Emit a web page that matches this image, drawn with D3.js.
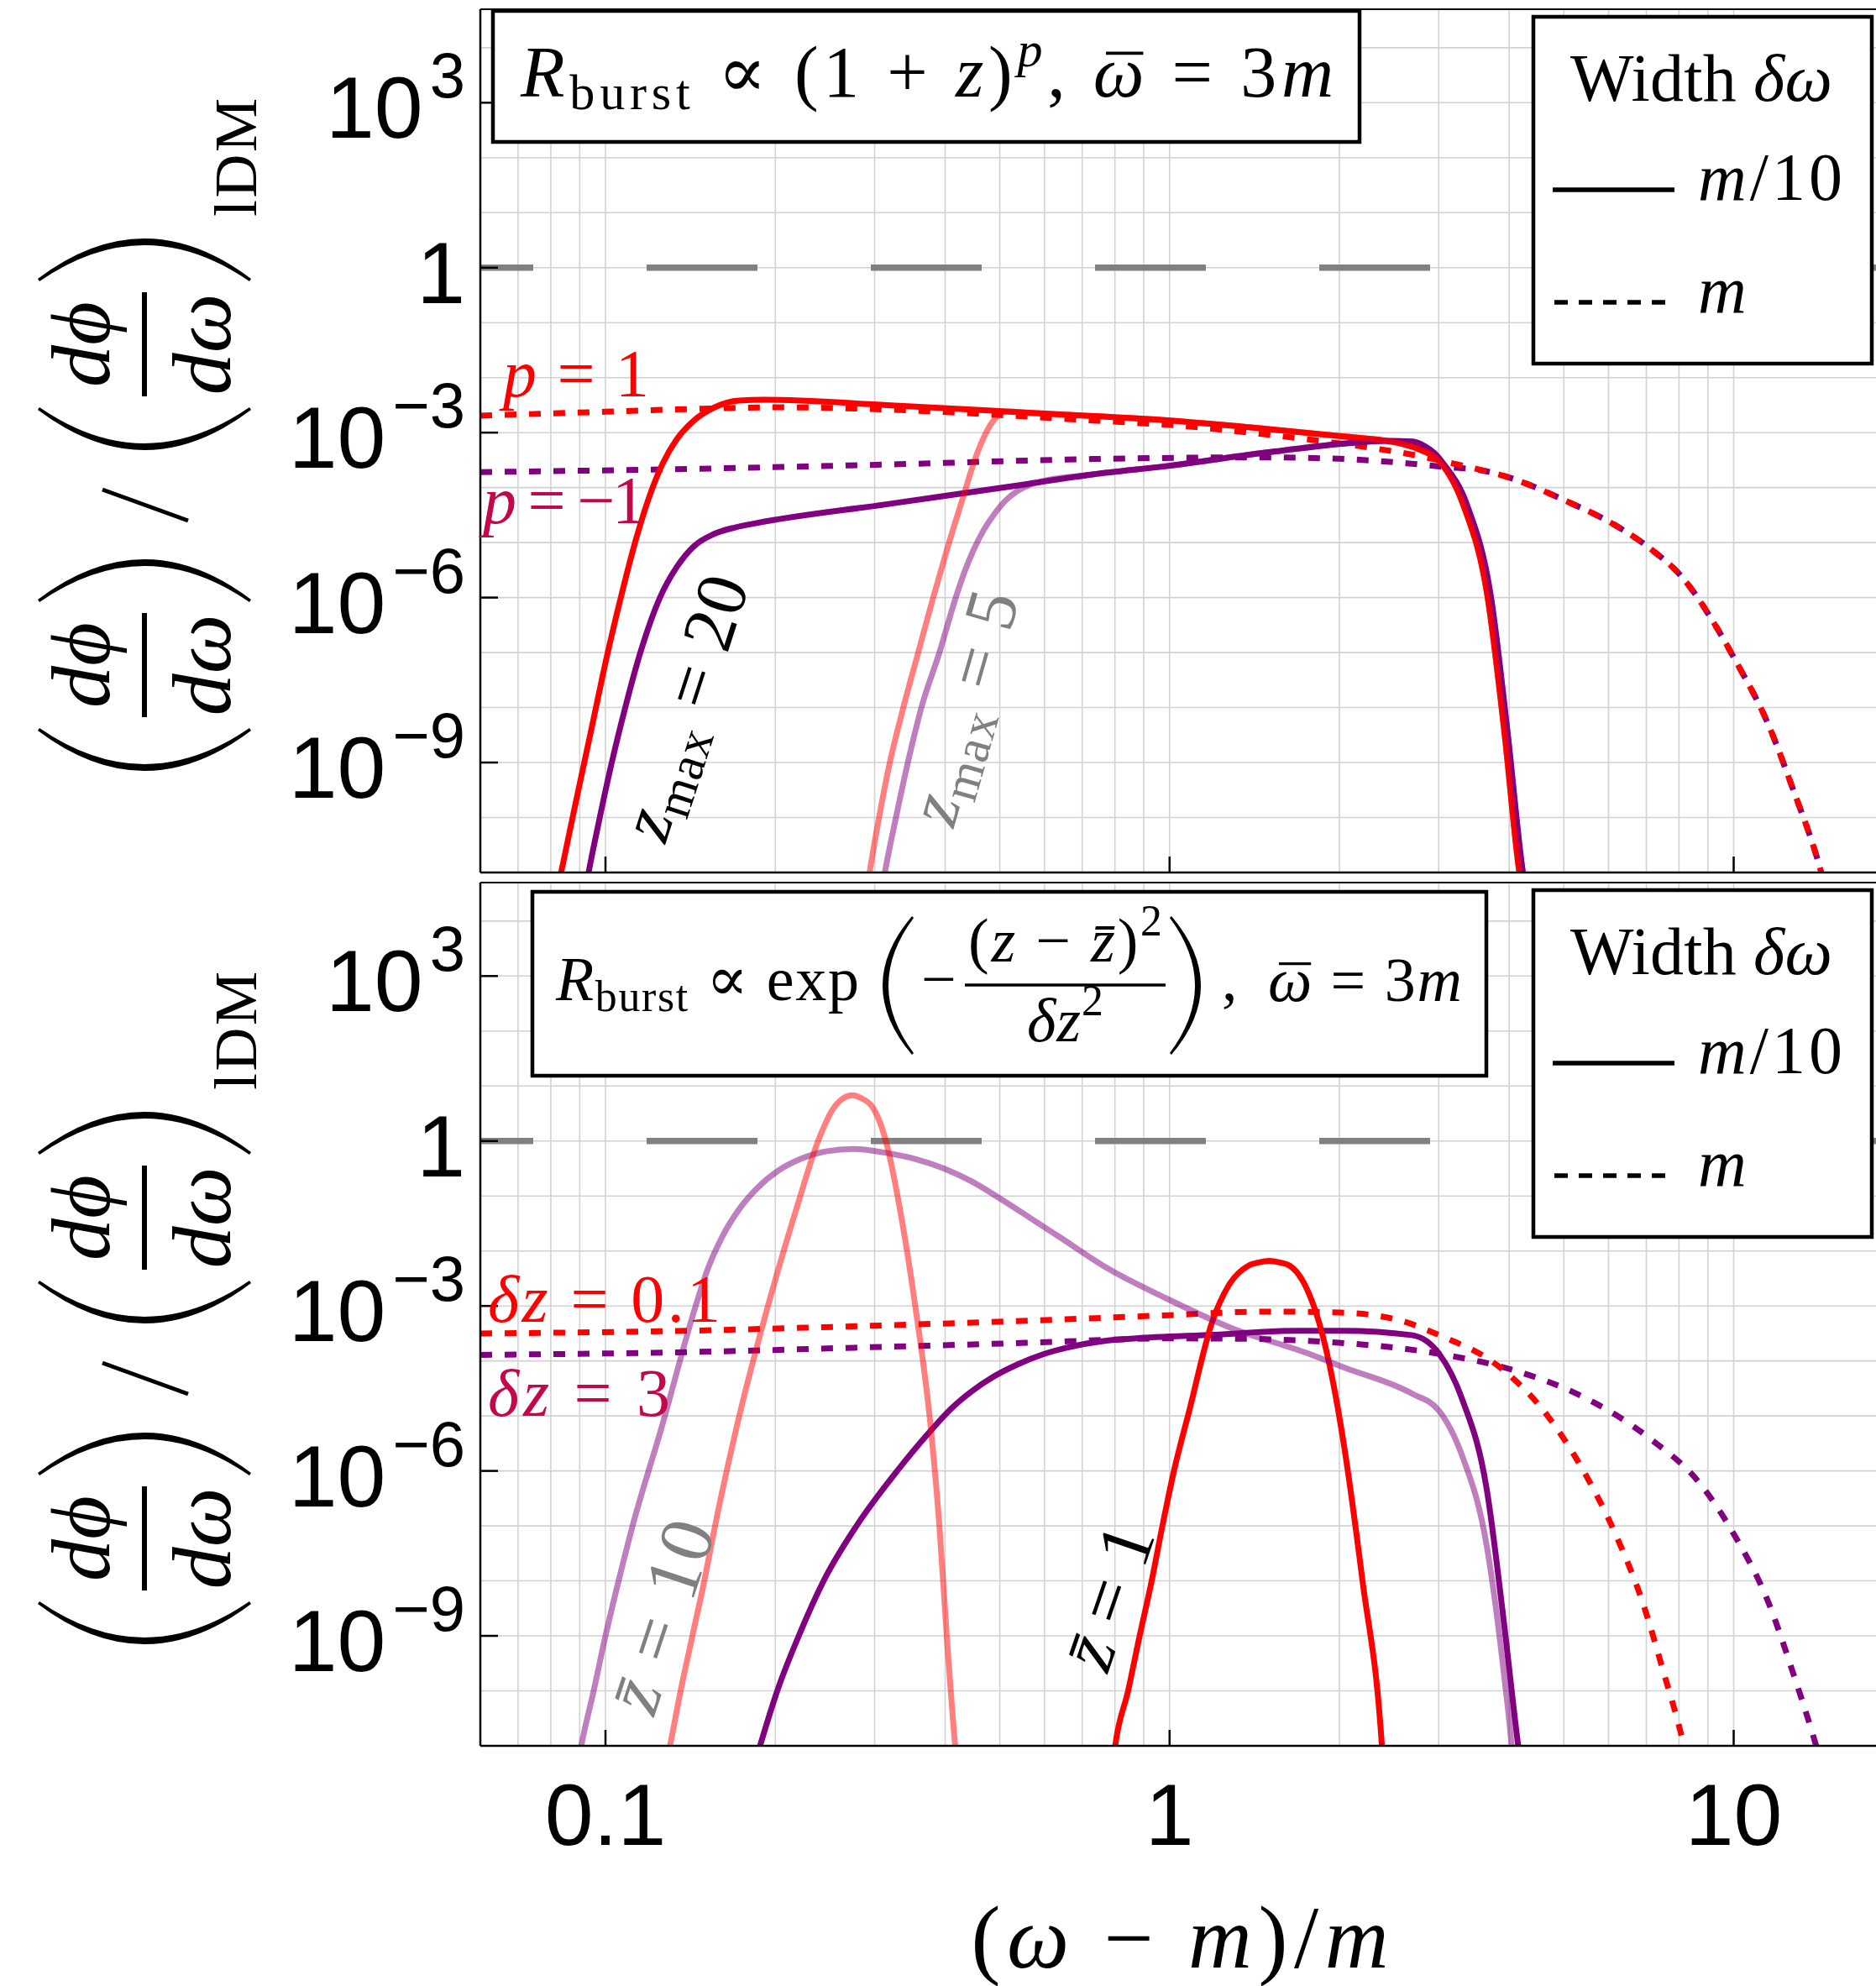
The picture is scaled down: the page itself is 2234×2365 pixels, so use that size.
<!DOCTYPE html>
<html>
<head>
<meta charset="utf-8">
<script src="https://cdn.jsdelivr.net/npm/d3@7"></script>
<style>
  html, body { margin: 0; padding: 0; background: #fff; }
  svg { display: block; }
</style>
</head>
<body>
<div id="wrap"></div>
<script>

// ---------- axes ----------
const xTicks = [0.1, 1, 10];
const xTickLabels = ["0.1", "1", "10"];
const yTicks = [1e-9, 1e-6, 1e-3, 1, 1e3];
const yTickBase = ["10", "10", "10", "1", "10"];
const yTickExp = ["\u22129", "\u22126", "\u22123", "", "3"];

// ---------- top panel : R_burst ∝ (1+z)^p ----------
// width m/10, z_max = 20
const topRed20 = [[0.0828,6.8e-12],[0.0881,1.45e-10],[0.0943,3.8e-9],[0.1007,9.0e-8],[0.1075,1.5e-6],[0.1135,1.24e-5],[0.1195,6.7e-5],[0.1263,2.74e-4],[0.1338,7.6e-4],[0.1433,1.64e-3],[0.1562,2.89e-3],[0.1724,3.83e-3],[0.1911,3.96e-3],[0.316,3.16e-3],[0.562,2.3e-3],[1.0,1.66e-3],[1.449,1.2e-3],[2.04,8.5e-4],[2.42,7.1e-4],[2.62,6.0e-4],[2.78,4.9e-4],[3.01,3.0e-4],[3.32,4.7e-5],[3.66,1.07e-6],[3.92,3.8e-9],[4.17,1e-11],[4.23,4e-12]];
const topPurple20 = [[0.0921,4.8e-12],[0.0935,1.1e-11],[0.0977,1e-10],[0.1026,1e-9],[0.1084,1e-8],[0.1153,1e-7],[0.1249,1e-6],[0.1338,3.6e-6],[0.1437,8.7e-6],[0.1556,1.43e-5],[0.1698,1.89e-5],[0.1847,2.25e-5],[0.316,5.0e-5],[0.562,1.17e-4],[0.730,1.74e-4],[1.0,2.5e-4],[1.449,4.2e-4],[2.04,6.3e-4],[2.42,7.1e-4],[2.685,6.9e-4],[2.84,5.6e-4],[2.95,4.2e-4],[3.05,2.8e-4],[3.37,4.7e-5],[3.71,1.07e-6],[3.97,3.8e-9],[4.23,1e-11],[4.29,4e-12]];
// width m/10, z_max = 5
const topRed5 = [[0.2911,5e-12],[0.2944,1.1e-11],[0.3055,1e-10],[0.3192,1e-9],[0.3373,1e-8],[0.3584,1e-7],[0.381,1e-6],[0.4049,8.7e-6],[0.4360,1.02e-4],[0.4458,2.16e-4],[0.4557,4.13e-4],[0.4657,7.18e-4],[0.4757,1.12e-3],[0.4858,1.58e-3],[0.4959,2.01e-3],[0.5060,2.31e-3],[0.5164,2.42e-3],[0.562,2.3e-3],[1.0,1.66e-3],[1.449,1.2e-3],[2.04,8.5e-4],[2.42,7.1e-4],[2.62,6.0e-4],[2.78,4.9e-4],[3.01,3.0e-4],[3.32,4.7e-5],[3.66,1.07e-6],[3.92,3.8e-9],[4.17,1e-11],[4.23,4e-12]];
const topPurple5 = [[0.309,5e-12],[0.3133,1.1e-11],[0.3273,1e-10],[0.3436,1e-9],[0.3631,1e-8],[0.3908,1e-7],[0.4178,1e-6],[0.4329,2.91e-6],[0.4496,7.46e-6],[0.4681,1.68e-5],[0.4886,3.27e-5],[0.5105,5.65e-5],[0.5355,8.45e-5],[0.5627,1.11e-4],[0.5924,1.29e-4],[0.730,1.74e-4],[1.0,2.5e-4],[1.449,4.2e-4],[2.04,6.3e-4],[2.42,7.1e-4],[2.685,6.9e-4],[2.84,5.6e-4],[2.95,4.2e-4],[3.05,2.8e-4],[3.37,4.7e-5],[3.71,1.07e-6],[3.97,3.8e-9],[4.23,1e-11],[4.29,4e-12]];
// width m
const topRedWide = [[0.06,2.04e-3],[0.1,2.4e-3],[0.1413,2.69e-3],[0.1995,2.88e-3],[0.316,2.63e-3],[0.501,2.09e-3],[0.730,1.66e-3],[1.028,1.35e-3],[1.449,9.5e-4],[2.04,6.2e-4],[2.79,3.7e-4],[3.31,2.5e-4],[4.01,1.51e-4],[5.01,5.9e-5],[6.18,2.04e-5],[7.10,7.9e-6],[8.15,2.19e-6],[9.38,2.6e-7],[10.02,7.9e-8],[11.53,4.8e-9],[12.71,3.5e-10],[14.19,1.32e-11],[14.39,7.9e-12]];
const topPurpleWide = [[0.06,1.91e-4],[0.1413,2.19e-4],[0.316,2.63e-4],[0.730,3.31e-4],[1.449,3.55e-4],[2.04,3.31e-4],[2.655,2.75e-4],[3.04,2.4e-4],[3.63,2.0e-4],[4.01,1.51e-4],[5.01,5.9e-5],[6.18,2.04e-5],[7.10,7.9e-6],[8.15,2.19e-6],[9.38,2.6e-7],[10.02,7.9e-8],[11.53,4.8e-9],[12.71,3.5e-10],[14.19,1.32e-11],[14.39,7.9e-12]];

// ---------- bottom panel : gaussian burst in z ----------
// width m/10, zbar = 10
const botRed10 = [[0.1282,5e-12],[0.1301,1e-11],[0.1359,1e-10],[0.1426,1e-9],[0.1497,1e-8],[0.1564,1e-7],[0.1707,6.1e-6],[0.1941,1e-3],[0.2188,0.066],[0.2382,1],[0.2529,3.76],[0.2642,6.03],[0.2739,6.8],[0.2838,6.03],[0.2992,3.76],[0.3141,1],[0.3319,0.066],[0.3541,1e-3],[0.3773,6.1e-6],[0.3908,1e-7],[0.4027,1e-9],[0.4169,1e-11],[0.4207,4e-12]];
const botPurple10 = [[0.0895,5e-12],[0.0906,1e-11],[0.0953,1e-10],[0.1,1e-9],[0.1055,1e-8],[0.1117,1e-7],[0.1257,6.1e-6],[0.1445,1.0e-3],[0.1518,4.69e-3],[0.1609,0.0178],[0.1721,0.0552],[0.1857,0.1387],[0.2021,0.2858],[0.2219,0.4742],[0.2458,0.647],[0.2748,0.716],[0.3162,0.6026],[0.3548,0.4677],[0.3981,0.3162],[0.4467,0.182],[0.5012,0.0891],[0.5623,0.0417],[0.6389,0.0178],[0.7748,4.9e-3],[0.9856,1.38e-3],[1.284,4.0e-4],[1.756,1.38e-4],[2.04,7.6e-5],[2.685,2.57e-5],[3.0,1.26e-5],[3.30,1.9e-6],[3.65,4.3e-8],[3.91,2.3e-10],[4.04,1e-11],[4.07,4e-12]];
// width m/10, zbar = 1
const botRed1 = [[0.7943,5e-12],[0.801,1e-11],[0.8443,1e-10],[0.885,1e-9],[0.9296,1e-8],[0.9712,1e-7],[1.018,1e-6],[1.084,1.26e-5],[1.189,5.0e-4],[1.274,2.4e-3],[1.380,5.4e-3],[1.439,6.2e-3],[1.502,6.6e-3],[1.567,6.2e-3],[1.633,5.4e-3],[1.738,2.4e-3],[1.841,5.0e-4],[1.950,4.0e-5],[2.035,3.2e-6],[2.198,1e-8],[2.379,1e-11],[2.393,4e-12]];
const botPurple1 = [[0.1841,5e-12],[0.1879,1e-11],[0.2016,1e-10],[0.2201,1e-9],[0.2436,1e-8],[0.2786,1e-7],[0.3289,1e-6],[0.3793,5.75e-6],[0.4089,1.32e-5],[0.4445,2.74e-5],[0.4870,5.15e-5],[0.5379,8.67e-5],[0.5981,1.33e-4],[0.6711,1.83e-4],[0.7585,2.28e-4],[0.8636,2.56e-4],[1.2,3.0e-4],[1.675,3.55e-4],[2.034,3.55e-4],[2.685,2.95e-4],[3.0,1.38e-4],[3.30,2.04e-5],[3.65,4.6e-7],[3.91,1.95e-9],[4.15,1e-11],[4.20,4e-12]];
// width m
const botRedWide = [[0.06,3.16e-4],[0.1413,3.55e-4],[0.2752,4.27e-4],[0.562,5.4e-4],[1.0,6.8e-4],[1.479,7.9e-4],[1.995,7.6e-4],[2.512,5.75e-4],[3.04,2.8e-4],[3.80,8.5e-5],[4.68,1e-5],[5.37,1.17e-6],[6.18,6.9e-8],[6.90,4.0e-9],[7.50,2.3e-10],[8.15,1.05e-11],[8.24,6.3e-12]];
const botPurpleWide = [[0.06,1.29e-4],[0.1413,1.45e-4],[0.2752,1.74e-4],[0.562,2.14e-4],[1.0,2.57e-4],[1.413,2.51e-4],[1.995,2.14e-4],[2.512,1.74e-4],[3.04,1.32e-4],[4.07,6.8e-5],[5.37,2.3e-5],[7.10,3.9e-6],[8.73,5.75e-7],[10.03,6.8e-8],[11.53,4.0e-9],[12.71,2.3e-10],[13.80,1.66e-11],[14.19,6.3e-12]];

const refLevel = 1;   // grey dashed line, ratio = 1

// ---------- styles ----------
const SERIF = "'Liberation Serif','DejaVu Serif',serif";
const SANS = "'Liberation Sans','DejaVu Sans',sans-serif";
const RED = "#ff0000", PURPLE = "#800080", CRIMSON = "#c0084a", GREY = "#808080";

const W = 2234, H = 2365;
const xLeft = 572;

const x = d3.scaleLog().domain([0.06, 18]).range([xLeft, 2236]);
const yDomain = [1e-11, Math.pow(10, 4.7)];

const svg = d3.select("#wrap").append("svg")
    .attr("width", W).attr("height", H)
    .attr("viewBox", [0, 0, W, H]);

svg.append("rect").attr("width", W).attr("height", H).attr("fill", "#fff");

// text with italic / sub / sup pieces
function rich(parent, px, py, size, parts, opts) {
    opts = opts || {};
    const t = parent.append("text")
        .attr("x", px).attr("y", py)
        .attr("font-family", SERIF)
        .attr("font-size", size)
        .attr("fill", opts.color || "#000");
    if (opts.anchor) t.attr("text-anchor", opts.anchor);
    if (opts.len) t.attr("textLength", opts.len).attr("lengthAdjust", "spacing");
    let shift = 0;
    parts.forEach(p => {
        const s = t.append("tspan").text(p.t);
        if (p.i) s.attr("font-style", "italic");
        const want = p.sub ? size * 0.18 : p.sup ? -size * 0.42 : 0;
        if (want !== shift) { s.attr("dy", want - shift); shift = want; }
        if (p.sub || p.sup) s.attr("font-size", size * 0.7);
    });
    return t;
}

// bar over one character of a text (omega-bar); text must hold single spaces only
function overbar(parent, t, ch, baseline, size) {
    const node = t.node();
    const i = node.textContent.indexOf(ch);
    const p0 = node.getStartPositionOfChar(i);
    const tmp = parent.append("text")
        .attr("font-family", SERIF).attr("font-size", size)
        .attr("font-style", "italic").text(ch);
    const w = tmp.node().getComputedTextLength();
    tmp.remove();
    parent.append("line")
        .attr("x1", p0.x + w * 0.25).attr("x2", p0.x + w * 0.98)
        .attr("y1", baseline - size * 0.6).attr("y2", baseline - size * 0.6)
        .attr("stroke", "#000").attr("stroke-width", size * 0.045);
}

const line = d3.line()
    .x(d => x(d[0]))
    .y(d => d[1])
    .curve(d3.curveMonotoneX);

function drawPanel(cfg, idx) {
    const y = d3.scaleLog().domain(yDomain).range([cfg.bottom, cfg.top]);
    const g = svg.append("g");

    const clipId = "clip" + idx;
    svg.append("clipPath").attr("id", clipId).append("rect")
        .attr("x", xLeft).attr("y", cfg.top)
        .attr("width", W - xLeft).attr("height", cfg.bottom - cfg.top);

    // grid
    const xGrid = [];
    [0.01, 0.1, 1, 10].forEach(b => { for (let k = 1; k < 10; k++) xGrid.push(b * k); });
    const yGrid = d3.range(-11, 5).map(e => Math.pow(10, e));
    const grid = g.append("g").attr("stroke", "#d2d2d2").attr("stroke-width", 1.6);
    grid.selectAll("line.gx")
        .data(xGrid.filter(v => v > 0.06 && v < 18))
        .join("line").attr("class", "gx")
        .attr("x1", d => x(d)).attr("x2", d => x(d))
        .attr("y1", cfg.top).attr("y2", cfg.bottom);
    grid.selectAll("line.gy")
        .data(yGrid)
        .join("line").attr("class", "gy")
        .attr("x1", xLeft).attr("x2", W)
        .attr("y1", d => y(d)).attr("y2", d => y(d));

    const plot = g.append("g").attr("clip-path", `url(#${clipId})`);

    // reference level
    plot.append("line")
        .attr("x1", x(0.06)).attr("x2", x(18))
        .attr("y1", y(refLevel)).attr("y2", y(refLevel))
        .attr("stroke", GREY).attr("stroke-width", 7.5)
        .attr("stroke-dasharray", "132,135")
        .attr("stroke-dashoffset", 69);

    // curves
    cfg.series.forEach(s => {
        plot.append("path")
            .datum(s.data.map(d => [d[0], y(d[1])]))
            .attr("d", line)
            .attr("fill", "none")
            .attr("stroke", s.color)
            .attr("stroke-opacity", s.alpha || 1)
            .attr("stroke-width", 7)
            .attr("stroke-dasharray", s.dash ? "14,15" : null);
    });

    // frame
    g.append("line").attr("x1", xLeft).attr("x2", W).attr("y1", cfg.top).attr("y2", cfg.top)
        .attr("stroke", "#000").attr("stroke-width", 2);
    g.append("line").attr("x1", xLeft).attr("x2", W).attr("y1", cfg.bottom).attr("y2", cfg.bottom)
        .attr("stroke", "#000").attr("stroke-width", 2.5);
    g.append("line").attr("x1", xLeft).attr("x2", xLeft).attr("y1", cfg.top).attr("y2", cfg.bottom)
        .attr("stroke", "#000").attr("stroke-width", 2.5);

    // ticks
    g.selectAll("line.yt").data(yTicks).join("line").attr("class", "yt")
        .attr("x1", xLeft).attr("x2", xLeft + 21)
        .attr("y1", d => y(d)).attr("y2", d => y(d))
        .attr("stroke", "#000").attr("stroke-width", 2.5);
    g.selectAll("line.xt").data(xTicks).join("line").attr("class", "xt")
        .attr("x1", d => x(d)).attr("x2", d => x(d))
        .attr("y1", cfg.bottom).attr("y2", cfg.bottom - 19)
        .attr("stroke", "#000").attr("stroke-width", 2.5);

    // y tick labels
    yTicks.forEach((v, i) => {
        const t = g.append("text")
            .attr("x", 554).attr("y", y(v) + 42)
            .attr("text-anchor", "end")
            .attr("font-family", SANS).attr("font-size", 104)
            .text(yTickBase[i]);
        if (yTickExp[i]) {
            t.append("tspan").attr("dy", -48).attr("dx", 8)
                .attr("font-size", 76).text(yTickExp[i]);
        }
    });

    // in-plot annotations
    cfg.labels.forEach(l => {
        if (l.angle) {
            const lg = g.append("g").attr("transform", `translate(${l.x},${l.y}) rotate(${l.angle})`);
            rich(lg, 0, 0, l.size, l.parts, {color: l.color, anchor: "middle", len: l.len})
                .attr("dy", "0.3em");
        } else {
            rich(g, l.x, l.y, l.size, l.parts, {color: l.color, len: l.len});
        }
    });

    cfg.extra(g);
    drawLegend(cfg.top - 11);
    drawYLabel(172, 920 + cfg.top - 11);
}

function drawLegend(off) {
    const g = svg.append("g");
    g.append("rect")
        .attr("x", 1826).attr("y", 20 + off).attr("width", 403).attr("height", 413)
        .attr("fill", "#fff").attr("stroke", "#000").attr("stroke-width", 4.5);
    rich(g, 1870, 120 + off, 80, [{t: "Width "}, {t: "\u03b4\u03c9", i: 1}], {len: 312});
    g.append("line").attr("x1", 1849).attr("x2", 1994).attr("y1", 226 + off).attr("y2", 226 + off)
        .attr("stroke", "#000").attr("stroke-width", 5.5);
    rich(g, 2022, 238 + off, 80, [{t: "m", i: 1}, {t: "/10"}], {len: 172});
    g.append("line").attr("x1", 1851).attr("x2", 1983).attr("y1", 360 + off).attr("y2", 360 + off)
        .attr("stroke", "#000").attr("stroke-width", 5.5).attr("stroke-dasharray", "16,13");
    rich(g, 2022, 372 + off, 80, [{t: "m", i: 1}]);
}

function paren(g, x0, x1, yTop, yBot, thick, flip) {
    // big delimiter as filled crescent; x0 = tip of the curve, x1 = its ends
    const ym = (yTop + yBot) / 2;
    const c1 = 2 * x0 - x1;
    const c2 = 2 * (x0 + (flip ? -thick : thick)) - x1;
    const e = flip ? -2 : 2;
    return g.append("path")
        .attr("d", `M${x1},${yTop} Q${c1},${ym} ${x1},${yBot} L${x1 + e},${yBot - 2} Q${c2},${ym} ${x1 + e},${yTop + 2} Z`)
        .attr("fill", "#000");
}

function drawYLabel(X0, Y0) {
    const g = svg.append("g")
        .attr("transform", `translate(${X0},${Y0}) rotate(-90)`)
        .attr("font-family", SERIF);
    [0, 382].forEach(U => {
        // local frame: u along the label, v across it
        g.append("path")
            .attr("d", `M${U + 50},-127 Q${U - 46},0 ${U + 50},127 L${U + 53},125 Q${U - 33},0 ${U + 53},-125 Z`);
        g.append("path")
            .attr("d", `M${U + 206},-127 Q${U + 302},0 ${U + 206},127 L${U + 203},125 Q${U + 289},0 ${U + 203},-125 Z`);
        g.append("rect").attr("x", U + 66).attr("y", -3).attr("width", 124).attr("height", 6);
        g.append("text").attr("x", U + 128).attr("y", -42).attr("text-anchor", "middle")
            .attr("font-size", 100).attr("font-style", "italic").text("d\u03d5");
        g.append("text").attr("x", U + 128).attr("y", 102).attr("text-anchor", "middle")
            .attr("font-size", 100).attr("font-style", "italic").text("d\u03c9");
    });
    g.append("line").attr("x1", 300).attr("y1", 52).attr("x2", 337).attr("y2", -50)
        .attr("stroke", "#000").attr("stroke-width", 5);
    g.append("text").attr("x", 662).attr("y", 133).attr("font-size", 72)
        .attr("textLength", 141).attr("lengthAdjust", "spacing").text("lDM");
}

const panels = [
    {
        top: 11, bottom: 1039,
        series: [
            {data: topPurpleWide, color: PURPLE, dash: true},
            {data: topRedWide, color: RED, dash: true},
            {data: topPurple20, color: PURPLE},
            {data: topRed20, color: RED},
            {data: topPurple5, color: PURPLE, alpha: 0.5},
            {data: topRed5, color: RED, alpha: 0.5}
        ],
        labels: [
            {parts: [{t: "p", i: 1}, {t: " = 1"}], x: 599, y: 472, size: 80, len: 174, color: RED},
            {parts: [{t: "p", i: 1}, {t: " = \u22121"}], x: 575, y: 623, size: 80, len: 194, color: CRIMSON},
            {parts: [{t: "z", i: 1}, {t: "max", sub: 1}, {t: " = 20"}], x: 818, y: 843, angle: -72, size: 86, len: 325, color: "#000"},
            {parts: [{t: "z", i: 1}, {t: "max", sub: 1}, {t: " = 5"}], x: 1150, y: 843, angle: -74, size: 86, len: 285, color: GREY}
        ],
        extra: g => {
            g.append("rect").attr("x", 587).attr("y", 13).attr("width", 1032).attr("height", 156)
                .attr("fill", "#fff").attr("stroke", "#000").attr("stroke-width", 4.5);
            const t = rich(g, 620, 115, 86, [
                {t: "R", i: 1}, {t: "burst", sub: 1}, {t: " \u221d (1 + "}, {t: "z", i: 1}, {t: ")"},
                {t: "p", i: 1, sup: 1}, {t: ", "}, {t: "\u03c9", i: 1}, {t: " = 3"}, {t: "m", i: 1}
            ], {len: 968});
            overbar(g, t, "\u03c9", 115, 86);
        }
    },
    {
        top: 1051, bottom: 2079,
        series: [
            {data: botPurpleWide, color: PURPLE, dash: true},
            {data: botRedWide, color: RED, dash: true},
            {data: botPurple1, color: PURPLE},
            {data: botRed1, color: RED},
            {data: botPurple10, color: PURPLE, alpha: 0.5},
            {data: botRed10, color: RED, alpha: 0.5}
        ],
        labels: [
            {parts: [{t: "\u03b4z", i: 1}, {t: " = 0.1"}], x: 581, y: 1574, size: 80, len: 277, color: RED},
            {parts: [{t: "\u03b4z", i: 1}, {t: " = 3"}], x: 581, y: 1686, size: 80, len: 217, color: CRIMSON},
            {parts: [{t: "z\u0304", i: 1}, {t: " = 10"}], x: 790, y: 1925, angle: -71.7, size: 90, len: 235, color: GREY},
            {parts: [{t: "z\u0304", i: 1}, {t: " = 1"}], x: 1322, y: 1902, angle: -71, size: 90, len: 175, color: "#000"}
        ],
        extra: g => {
            g.append("rect").attr("x", 634).attr("y", 1062).attr("width", 1136).attr("height", 219)
                .attr("fill", "#fff").attr("stroke", "#000").attr("stroke-width", 4.5);
            rich(g, 662, 1191, 74, [{t: "R", i: 1}, {t: "burst", sub: 1}, {t: " \u221d exp"}], {len: 361});
            paren(g, 1051, 1086, 1091, 1256, 6, false);
            rich(g, 1097, 1191, 74, [{t: "\u2212"}]);
            rich(g, 1153, 1145, 74, [{t: "("}, {t: "z", i: 1}, {t: " \u2212 "}, {t: "z\u0304", i: 1}, {t: ")"}, {t: "2", sup: 1}], {len: 231});
            g.append("line").attr("x1", 1149).attr("x2", 1388).attr("y1", 1173).attr("y2", 1173)
                .attr("stroke", "#000").attr("stroke-width", 3.5);
            rich(g, 1223, 1240, 74, [{t: "\u03b4z", i: 1}, {t: "2", sup: 1}], {len: 91});
            paren(g, 1430, 1395, 1091, 1256, 6, true);
            rich(g, 1455, 1191, 74, [{t: ","}]);
            const t = rich(g, 1510, 1192, 74, [{t: "\u03c9", i: 1}, {t: " = 3"}, {t: "m", i: 1}], {len: 231});
            overbar(g, t, "\u03c9", 1192, 74);
        }
    }
];

panels.forEach((p, i) => drawPanel(p, i));

// x tick labels and axis title
svg.append("g").selectAll("text").data(xTicks).join("text")
    .attr("x", d => x(d)).attr("y", 2197)
    .attr("text-anchor", "middle")
    .attr("font-family", SANS).attr("font-size", 104)
    .text((d, i) => xTickLabels[i]);

rich(svg, 1405, 2343, 105, [
    {t: "("}, {t: "\u03c9", i: 1}, {t: " \u2212 "}, {t: "m", i: 1}, {t: ")/"}, {t: "m", i: 1}
], {anchor: "middle", len: 497});

</script>
</body>
</html>
